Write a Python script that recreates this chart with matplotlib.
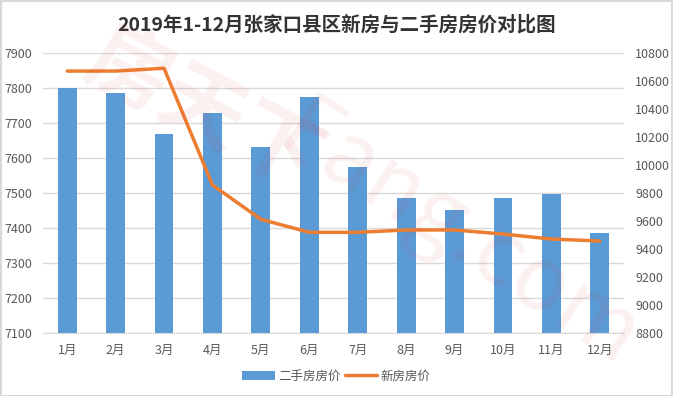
import matplotlib
matplotlib.use("Agg")
import matplotlib.pyplot as plt
from matplotlib.patches import Rectangle
import numpy as np

plt.rcParams['font.family'] = ['Noto Sans CJK SC', 'DejaVu Sans']

months = ['1月', '2月', '3月', '4月', '5月', '6月', '7月', '8月', '9月', '10月', '11月', '12月']
second_hand = [7800, 7786, 7669, 7729, 7631, 7774, 7574, 7486, 7451, 7486, 7497, 7386]
new_house = [10671, 10671, 10691, 9857, 9612, 9519, 9519, 9536, 9536, 9507, 9471, 9457]
left_ticks = [7100, 7200, 7300, 7400, 7500, 7600, 7700, 7800, 7900]
right_ticks = [8800, 9000, 9200, 9400, 9600, 9800, 10000, 10200, 10400, 10600, 10800]
title = '2019年1-12月张家口县区新房与二手房房价对比图'

fig = plt.figure(figsize=(6.73, 3.96), dpi=100)
ax = fig.add_axes([43/673, 1-333/396, (624-43)/673, (333-53)/396])
ax2 = ax.twinx()

x = np.arange(len(months))
ax.bar(x, second_hand, width=0.39, color='#5B9BD5', zorder=2, label='二手房房价')
ax2.plot(x, new_house, color='#ED7D31', lw=2.5, zorder=3, label='新房房价', solid_capstyle='round')

ax.set_xlim(-0.5, len(months)-0.5)
ax.set_ylim(7100, 7900)
ax2.set_ylim(8800, 10800)
ax.set_yticks(left_ticks)
ax2.set_yticks(right_ticks)
ax.set_xticks(x)
ax.set_xticklabels(months)
ax.grid(axis='y', color='#d9d9d9', lw=1, zorder=0)
ax.set_axisbelow(True)
for a in (ax, ax2):
    for s in a.spines.values():
        s.set_visible(False)
    a.tick_params(length=0, labelsize=9, colors='#595959')
ax.spines['bottom'].set_visible(True)
ax.spines['bottom'].set_color('#d9d9d9')
ax.tick_params(axis='x', pad=8)
ax.tick_params(axis='y', pad=8)
ax2.tick_params(axis='y', pad=8)
ax.set_zorder(ax2.get_zorder() - 1)
ax.patch.set_visible(False)

fig.text(0.5, 1-25/396, title, ha='center', va='center', fontsize=14, fontweight='bold', color='#333333')

h1, l1 = ax.get_legend_handles_labels()
h2, l2 = ax2.get_legend_handles_labels()
fig.legend(h1 + h2, l1 + l2, loc='center', bbox_to_anchor=(0.5, 1-376/396), ncol=2, frameon=False,
           fontsize=9, handlelength=2.6, handletextpad=0.3, columnspacing=0.3, labelcolor='#595959')

# watermark
fig.text(0.30, 0.72, '房天下', fontsize=60, color='#e03030', alpha=0.07, rotation=-28,
         ha='center', va='center', fontweight='bold', zorder=10)
fig.text(0.68, 0.40, 'Fang.com', fontsize=64, color='#e03030', alpha=0.07, rotation=-33,
         ha='center', va='center', zorder=10)

fig.patches.append(Rectangle((0.001, 0.001), 0.997, 0.997, transform=fig.transFigure,
                             fill=False, edgecolor='#d9d9d9', lw=1.5))
fig.savefig('out.png', dpi=100)
